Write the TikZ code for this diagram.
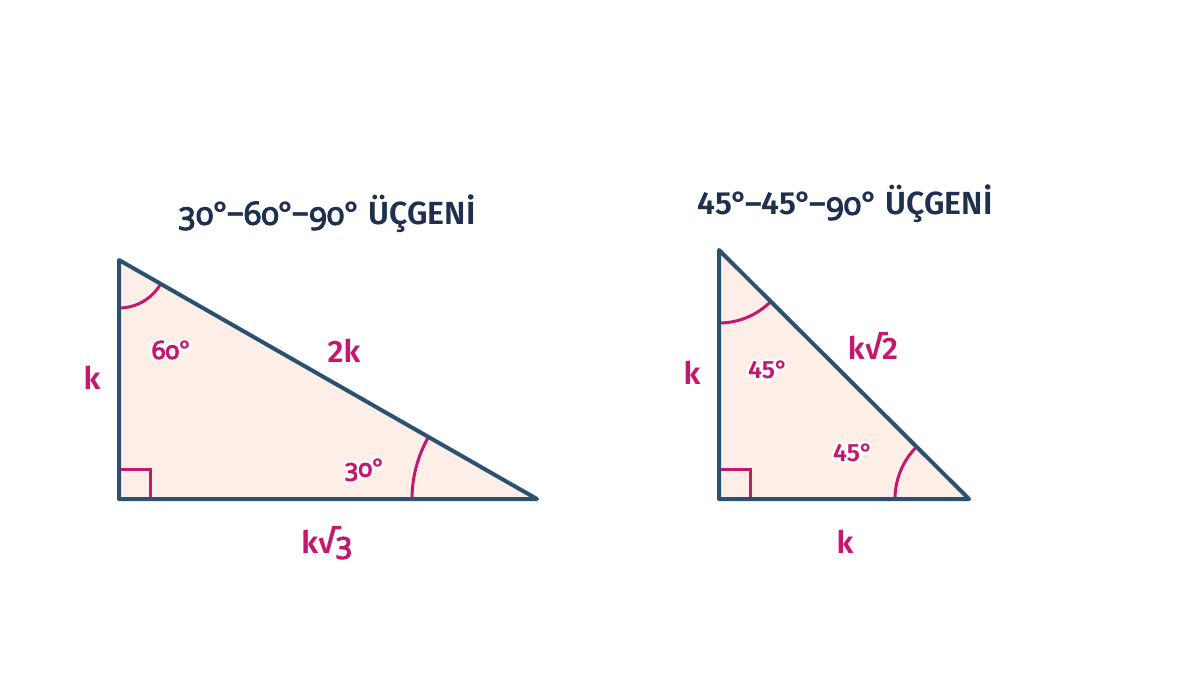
\documentclass[tikz,border=0pt]{standalone}
\usepackage{fontspec}
\setmainfont{Fira Sans}[UprightFont=* SemiBold]
\newfontfamily\osfont{Noto Sans}[Numbers=OldStyle]
\definecolor{edge}{RGB}{42,82,112}
\definecolor{fillc}{RGB}{253,239,231}
\definecolor{pink}{RGB}{196,24,110}
\definecolor{navy}{RGB}{30,48,78}
\newif\ifinhalo
\newcommand{\os}[1]{{\osfont\ifinhalo #1\else\special{pdf:literal direct 2 Tr 1 w 1 j}#1\special{pdf:literal direct 0 Tr}\fi}}
\newcommand{\halo}[1]{\leavevmode\rlap{\inhalotrue\color{white}\special{pdf:literal direct 1 Tr 5 w 1 j}#1\special{pdf:literal direct 0 Tr}}#1}
\begin{document}
\begin{tikzpicture}[x=1pt,y=-1pt,
  tri/.style={draw=edge,line width=4pt,line join=round},
  anglemark/.style={draw=pink,line width=3pt},
  title/.style={text=navy,font=\fontsize{32}{35}\selectfont},
  side/.style={text=pink,font=\fontsize{31}{34}\selectfont},
  ang/.style={text=pink,font=\fontsize{25}{28}\selectfont}]
\useasboundingbox (0,0) rectangle (1200,675);
% left triangle
\coordinate (A) at (119,499);
\coordinate (B) at (119,260);
\coordinate (C) at (537,499);
\fill[fillc] (A) -- (B) -- (C) -- cycle;
\draw[anglemark] (119,469) -- (150,469) -- (150,499);
\draw[anglemark] (B) ++(90:48) arc[start angle=90,end angle=29.8,radius=48];
\draw[anglemark] (C) ++(180:125) arc[start angle=180,end angle=209.8,radius=125];
\draw[tri] (A) -- (B) -- (C) -- cycle;
% right triangle
\coordinate (D) at (719,499);
\coordinate (E) at (719,250);
\coordinate (F) at (969,499);
\fill[fillc] (D) -- (E) -- (F) -- cycle;
\draw[anglemark] (719,469) -- (750,469) -- (750,499);
\draw[anglemark] (E) ++(90:73) arc[start angle=90,end angle=45,radius=73];
\draw[anglemark] (F) ++(180:74) arc[start angle=180,end angle=225,radius=74];
\draw[tri] (D) -- (E) -- (F) -- cycle;
% labels
\node[title] (t1) at (327,214) {\os{30}°–\os{60}°–\os{90}° ÜÇGENİ};
\node[side] (k1) at (92,378) {k};
\node[side] (h1) at (344,351) {2k};
\node[side] (b1) at (327,543) {k√\os{3}};
\node[title] (t2) at (845,204) {45°–45°–\os{90}° ÜÇGENİ};
\node[side] (k2) at (692,373) {k};
\node[side] (h2) at (873,346) {k√2};
\node[side] (b2) at (845,542) {k};
\node[ang] (a60) at (172,350) {\halo{\os{60}°}};
\node[ang] (a30) at (365,470) {\halo{\os{30}°}};
\node[ang] (a45a) at (768,370) {\halo{45°}};
\node[ang] (a45b) at (853,453) {\halo{45°}};
\end{tikzpicture}
\end{document}
